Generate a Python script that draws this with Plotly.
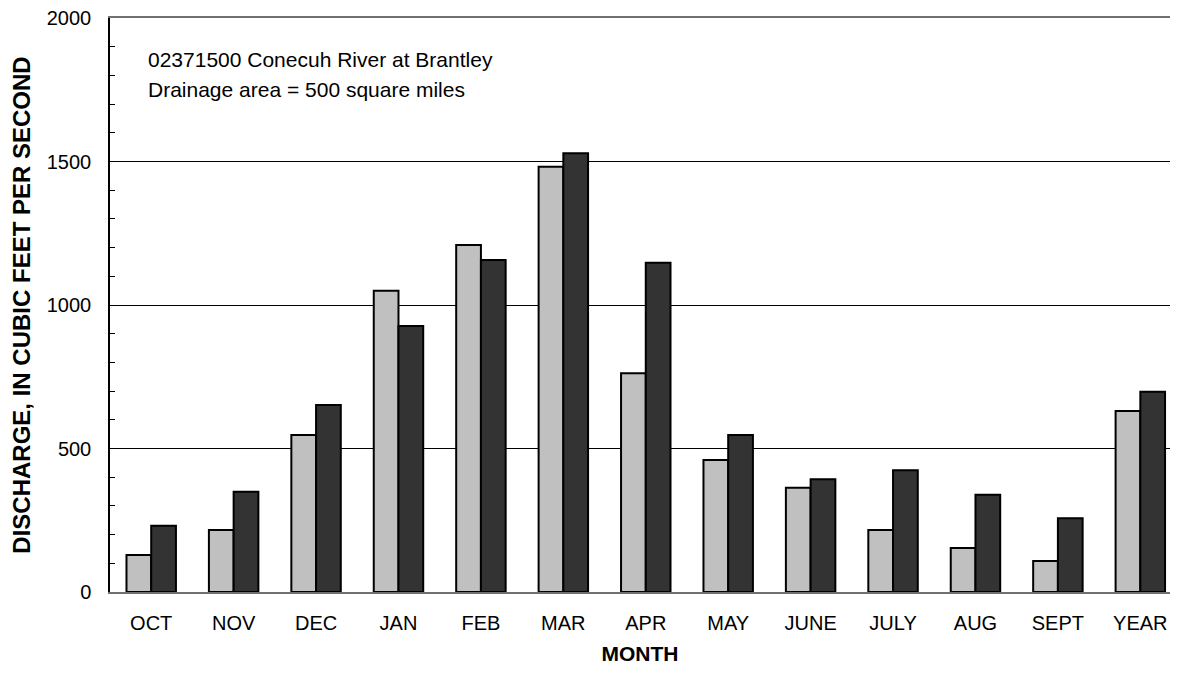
import plotly.graph_objects as go

months = ["OCT", "NOV", "DEC", "JAN", "FEB", "MAR", "APR", "MAY", "JUNE", "JULY", "AUG", "SEPT", "YEAR"]
series_a = [129, 216, 547, 1050, 1209, 1482, 762, 460, 363, 216, 153, 108, 631]
series_b = [231, 349, 652, 927, 1157, 1529, 1147, 547, 393, 424, 339, 257, 698]
y_ticks = [0, 500, 1000, 1500, 2000]
info_lines = ["02371500 Conecuh River at Brantley", "Drainage area = 500 square miles"]

FONT = "Liberation Sans, Arial, Helvetica, sans-serif"

fig = go.Figure()
fig.add_trace(go.Bar(x=months, y=series_a, marker=dict(color="#c0c0c0", line=dict(color="black", width=2)), showlegend=False))
fig.add_trace(go.Bar(x=months, y=series_b, marker=dict(color="#333333", line=dict(color="black", width=2)), showlegend=False))

fig.update_layout(
    width=1162, height=657,
    margin=dict(l=102, r=0, t=10, b=73),
    paper_bgcolor="white", plot_bgcolor="white",
    barmode="group", bargap=0.4, bargroupgap=0,
    font=dict(family=FONT, size=20, color="black"),
    xaxis=dict(
        range=[-0.5, 12.36],
        showline=True, linecolor="#707070", linewidth=2, mirror=True,
        ticks="", showgrid=False,
        tickfont=dict(size=20), ticklabelstandoff=12,
        title=dict(text="<b>MONTH</b>", font=dict(size=21), standoff=16),
    ),
    yaxis=dict(
        range=[0, 2000], tickvals=y_ticks,
        showline=True, linecolor="black", linewidth=1.5,
        ticks="inside", ticklen=5, tickcolor="black",
        minor=dict(dtick=100, ticks="inside", ticklen=5, tickcolor="black", showgrid=False),
        showgrid=True, gridcolor="black", gridwidth=1,
        zeroline=False,
        tickfont=dict(size=20), ticklabelstandoff=13,
        ticklabeloverflow="allow",
        title=dict(text="<b>DISCHARGE, IN CUBIC FEET PER SECOND</b>", font=dict(size=24), standoff=16),
    ),
)

for i, line in enumerate(info_lines):
    fig.add_annotation(
        xref="paper", yref="paper", x=0.034, y=0.927 - i * 0.051,
        xanchor="left", yanchor="middle", showarrow=False,
        text=line, font=dict(size=21, family=FONT, color="black"),
    )

fig.write_html("out.html")
